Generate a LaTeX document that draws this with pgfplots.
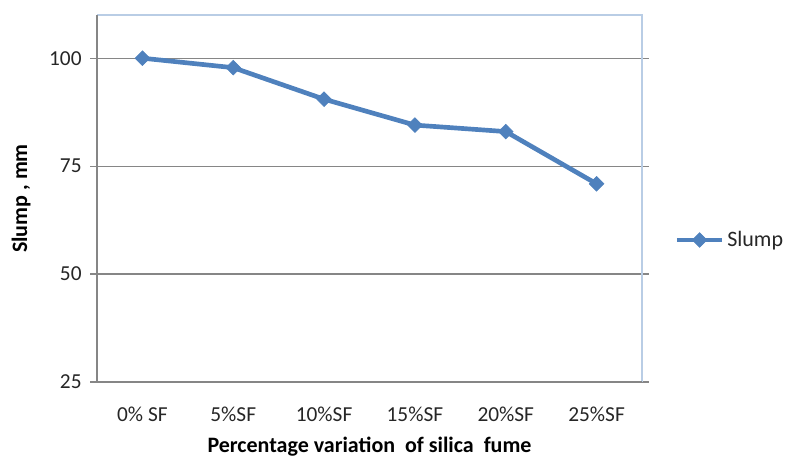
\documentclass[border=0pt]{standalone}
\usepackage{pgfplots}
\pgfplotsset{compat=1.18}
\usepackage{fontspec}
\setmainfont{Carlito}
\definecolor{series}{RGB}{79,129,189}
\definecolor{gridgray}{RGB}{134,134,134}
\definecolor{framblue}{RGB}{185,205,229}
\begin{document}
\begin{tikzpicture}
\useasboundingbox (0,0) rectangle (591pt,343.5pt);
\begin{axis}[
  at={(72.75pt,57pt)}, anchor=south west,
  scale only axis,
  width=408.75pt, height=275.25pt,
  xmin=-0.5, xmax=5.5,
  ymin=25, ymax=110,
  xtick={0,1,2,3,4,5},
  xticklabels={0\% SF,5\%SF,10\%SF,15\%SF,20\%SF,25\%SF},
  ytick={25,50,75,100},
  ymajorgrids,
  grid style={gridgray, line width=0.9pt},
  axis line style={draw=none},
  major x tick style={draw=none},
  major y tick style={gridgray, line width=0.9pt},
  tick align=outside,
  major tick length=5pt,
  ticklabel style={font=\fontsize{16}{19}\selectfont, text=black!85},
  /pgf/number format/assume math mode=true,
  xticklabel style={yshift=-10pt},
  yticklabel style={xshift=-3pt},
  xlabel={\textbf{Percentage variation\ \ of silica\ \ fume}},
  ylabel={\textbf{Slump , mm}},
  label style={font=\fontsize{16.5}{19}\selectfont},
  xlabel style={yshift=-5pt},
  ylabel style={yshift=7pt},
  legend style={at={(1.052,0.387)}, anchor=west, draw=none, fill=none,
    font=\fontsize{16.5}{19}\selectfont, text=black!85,
    legend image code/.code={\draw[mark repeat=2,mark phase=2,#1] plot coordinates {(0pt,0pt) (17pt,0pt) (34pt,0pt)};}},
  legend cell align=left,
  clip=false,
]
\draw[framblue, line width=1pt] (rel axis cs:0,1) -- (rel axis cs:1,1) -- (rel axis cs:1,0);
\draw[gridgray, line width=1.4pt] (rel axis cs:0,1) -- (rel axis cs:0,0) -- (rel axis cs:1,0);
\addplot[series, line width=3.5pt, mark=diamond*, mark size=5.5pt, mark options={solid, xscale=1.33, line width=0.5pt}]
  coordinates {(0,100) (1,97.8) (2,90.5) (3,84.5) (4,83.0) (5,70.9)};
\addlegendentry{Slump}
\end{axis}
\end{tikzpicture}
\end{document}
